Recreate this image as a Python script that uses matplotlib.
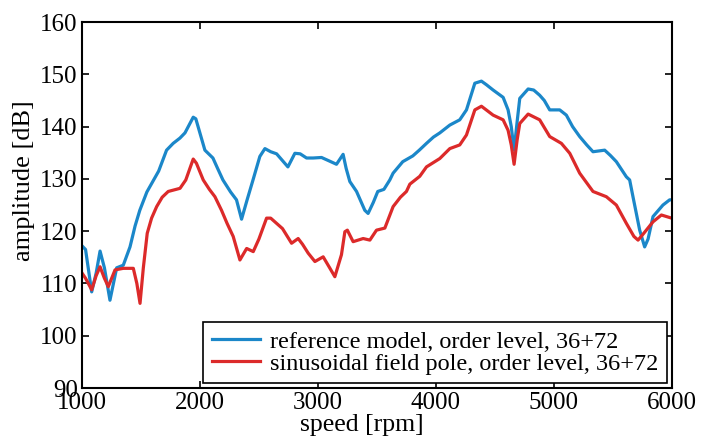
import numpy as np
import matplotlib
matplotlib.use("Agg")
import matplotlib.pyplot as plt

# reference model, order level 36+72
ref_rpm = [1000, 1030, 1082, 1120, 1153, 1190, 1237, 1294, 1350, 1407, 1450, 1490,
           1550, 1600, 1650, 1717, 1773, 1830, 1873, 1943, 1965, 2042, 2110, 2150,
           2195, 2260, 2310, 2353, 2400, 2450, 2508, 2551, 2600, 2650, 2700, 2746,
           2805, 2850, 2904, 2960, 3031, 3090, 3158, 3214, 3240, 3271, 3328, 3398,
           3426, 3470, 3508, 3560, 3610, 3638, 3720, 3805, 3860, 3921, 3980, 4034,
           4119, 4203, 4260, 4331, 4387, 4430, 4486, 4571, 4613, 4640, 4664, 4690,
           4712, 4783, 4830, 4881, 4920, 4966, 5051, 5107, 5160, 5220, 5280, 5333,
           5432, 5480, 5531, 5616, 5644, 5672, 5729, 5771, 5800, 5842, 5926, 5983, 6000]
ref_db = [117.2, 116.5, 108.4, 112, 116.2, 113, 106.8, 113, 113.5, 117, 121, 124,
          127.5, 129.5, 131.5, 135.5, 136.8, 137.8, 138.8, 141.8, 141.5, 135.5, 134, 132,
          129.8, 127.5, 126, 122.3, 126, 129.8, 134.3, 135.8, 135.2, 134.8, 133.5, 132.3,
          134.9, 134.8, 134, 134, 134.1, 133.5, 132.8, 134.7, 132, 129.5, 127.6, 124,
          123.4, 125.5, 127.6, 128, 129.8, 131.1, 133.3, 134.4, 135.5, 136.8, 138, 138.8,
          140.3, 141.3, 143.2, 148.3, 148.7, 148, 147, 145.6, 143.2, 140, 135.5, 141,
          145.4, 147.2, 147, 146, 145, 143.2, 143.2, 142.2, 140, 138.1, 136.5, 135.2,
          135.5, 134.5, 133.3, 130.4, 129.8, 126.6, 120.2, 117, 118.5, 122.8, 125, 126, 126]

# sinusoidal field pole, order level 36+72
sin_rpm = [1000, 1030, 1082, 1120, 1153, 1190, 1223, 1280, 1350, 1435, 1465, 1492,
           1520, 1553, 1590, 1633, 1680, 1731, 1831, 1880, 1943, 1970, 2028, 2080,
           2127, 2183, 2230, 2282, 2339, 2396, 2452, 2500, 2565, 2600, 2650, 2700,
           2777, 2833, 2870, 2918, 2975, 3045, 3100, 3144, 3200, 3229, 3250, 3299,
           3384, 3441, 3497, 3568, 3638, 3700, 3751, 3780, 3864, 3921, 4034, 4119,
           4203, 4260, 4331, 4387, 4486, 4571, 4613, 4640, 4664, 4690, 4712, 4783,
           4881, 4966, 5065, 5136, 5220, 5333, 5446, 5531, 5616, 5680, 5715, 5760,
           5842, 5913, 6000]
sin_db = [112, 111, 108.8, 111.5, 113.2, 111, 109.4, 112.6, 112.9, 112.9, 110, 106.2,
          113, 119.6, 122.5, 124.7, 126.5, 127.6, 128.2, 129.8, 133.8, 133, 129.8, 128,
          126.6, 124, 121.5, 119, 114.5, 116.7, 116.1, 118.5, 122.5, 122.5, 121.5, 120.5,
          117.7, 118.6, 117.5, 115.8, 114.2, 115.1, 113, 111.3, 115.5, 119.9, 120.2, 118,
          118.6, 118.3, 120.2, 120.6, 124.7, 126.5, 127.6, 129, 130.5, 132.3, 133.9, 135.8,
          136.5, 138.4, 143.2, 143.9, 142.2, 141.3, 139.3, 136.5, 132.8, 137.5, 140.6, 142.4,
          141.3, 138.1, 136.8, 134.9, 131.1, 127.6, 126.6, 125, 121.5, 119, 118.3, 119.5,
          121.8, 123.1, 122.5]

labels = ["reference model, order level, 36+72",
          "sinusoidal field pole, order level, 36+72"]

plt.rcParams['font.family'] = ['Liberation Serif', 'DejaVu Serif']

fig = plt.figure(figsize=(7.07, 4.41), dpi=100)
ax = fig.add_axes([0.116, 0.12, 0.834, 0.83])

ax.plot(ref_rpm, ref_db, color='#1b87c9', lw=2.3, label=labels[0])
ax.plot(sin_rpm, sin_db, color='#dc2a2a', lw=2.3, label=labels[1])

ax.set_xlim(1000, 6000)
ax.set_ylim(90, 160)
ax.set_xticks(np.arange(1000, 6001, 1000))
ax.set_yticks(np.arange(90, 161, 10))
ax.tick_params(direction='in', top=True, right=True, length=5, width=1.2,
               labelsize=18, pad=3)
for s in ax.spines.values():
    s.set_linewidth(1.5)

ax.set_xlabel("speed [rpm]", fontsize=18.5)
ax.set_ylabel("amplitude [dB]", fontsize=19)
# label positions (axes fractions)
ax.xaxis.set_label_coords(0.475, -0.07)
ax.yaxis.set_label_coords(-0.08, 0.568)

leg = ax.legend(loc='lower right', fontsize=17.5, frameon=True, fancybox=False,
                edgecolor='black', framealpha=1, borderpad=0.35, labelspacing=0.0,
                handlelength=2.0, handletextpad=0.4, borderaxespad=0.2)
leg.get_frame().set_linewidth(1.2)

fig.savefig("out.png", dpi=100)
